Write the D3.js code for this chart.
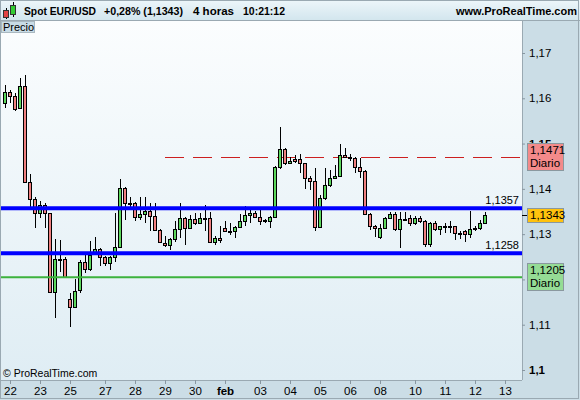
<!DOCTYPE html>
<html>
<head>
<meta charset="utf-8">
<script src="https://cdn.jsdelivr.net/npm/d3@7"></script>
<style>
  body { margin: 0; background: #fff; }
  svg { display: block; font-family: "Liberation Sans", Arial, sans-serif; }
</style>
</head>
<body>
<svg id="chart"></svg>
<script>
// Spot EUR/USD, 4 hour candles
const opens = [
  1.1589,1.1613,1.1605,1.1578,1.1627,1.1416,1.1377,1.1346,1.1364,1.1346,
  1.1172,1.1245,1.1245,1.1156,1.1140,1.1177,1.1238,1.1223,1.1259,1.1267,
  1.1249,1.1236,1.1249,1.1272,1.1401,1.1368,1.1368,1.1338,1.1345,1.1352,
  1.1340,1.1309,1.1281,1.1276,1.1289,1.1311,1.1335,1.1313,1.1333,1.1324,
  1.1335,1.1335,1.1282,1.1291,1.1313,1.1308,1.1308,1.1315,1.1329,1.1342,
  1.1346,1.1337,1.1331,1.1330,1.1337,1.1448,1.1487,1.1457,1.1465,1.1465,
  1.1457,1.1423,1.1417,1.1315,1.1379,1.1409,1.1423,1.1428,1.1475,1.1471,
  1.1468,1.1448,1.1440,1.1345,1.1318,1.1294,1.1313,1.1335,1.1344,1.1311,
  1.1333,1.1335,1.1324,1.1336,1.1328,1.1278,1.1324,1.1311,1.1317,1.1317,
  1.1317,1.1303,1.1306,1.1300,1.1311,1.1313,1.1324
];
const highs = [
  1.1629,1.1618,1.1611,1.1644,1.1651,1.1433,1.1383,1.1374,1.1369,1.1347,
  1.1289,1.1287,1.1250,1.1170,1.1201,1.1243,1.1254,1.1285,1.1293,1.1270,
  1.1252,1.1252,1.1347,1.1422,1.1405,1.1383,1.1370,1.1383,1.1383,1.1368,
  1.1368,1.1311,1.1296,1.1291,1.1328,1.1369,1.1338,1.1342,1.1347,1.1347,
  1.1364,1.1350,1.1296,1.1317,1.1328,1.1324,1.1318,1.1344,1.1362,1.1353,
  1.1352,1.1353,1.1333,1.1340,1.1450,1.1536,1.1490,1.1470,1.1475,1.1478,
  1.1458,1.1428,1.1445,1.1386,1.1445,1.1442,1.1453,1.1500,1.1490,1.1478,
  1.1470,1.1468,1.1442,1.1347,1.1320,1.1323,1.1338,1.1350,1.1350,1.1350,
  1.1350,1.1342,1.1340,1.1340,1.1331,1.1327,1.1328,1.1318,1.1324,1.1328,
  1.1318,1.1307,1.1309,1.1352,1.1317,1.1331,1.1350
];
const lows = [
  1.1578,1.1590,1.1573,1.1576,1.1412,1.1361,1.1314,1.1335,1.1313,1.1170,
  1.1114,1.1217,1.1203,1.1096,1.1136,1.1170,1.1214,1.1219,1.1258,1.1230,
  1.1230,1.1221,1.1239,1.1270,1.1331,1.1353,1.1330,1.1331,1.1324,1.1306,
  1.1306,1.1280,1.1271,1.1264,1.1283,1.1291,1.1276,1.1311,1.1320,1.1323,
  1.1306,1.1280,1.1276,1.1280,1.1305,1.1298,1.1291,1.1313,1.1317,1.1324,
  1.1336,1.1320,1.1324,1.1313,1.1336,1.1443,1.1453,1.1455,1.1458,1.1436,
  1.1399,1.1398,1.1306,1.1313,1.1375,1.1405,1.1422,1.1426,1.1469,1.1462,
  1.1434,1.1423,1.1342,1.1309,1.1294,1.1289,1.1311,1.1333,1.1306,1.1269,
  1.1329,1.1318,1.1320,1.1325,1.1272,1.1272,1.1306,1.1298,1.1302,1.1302,
  1.1287,1.1289,1.1283,1.1291,1.1306,1.1309,1.1323
];
const closes = [
  1.1613,1.1605,1.1576,1.1627,1.1416,1.1377,1.1346,1.1364,1.1346,1.1172,
  1.1245,1.1243,1.1205,1.1140,1.1175,1.1238,1.1223,1.1254,1.1267,1.1249,
  1.1236,1.1249,1.1272,1.1401,1.1368,1.1369,1.1338,1.1345,1.1352,1.1340,
  1.1309,1.1283,1.1276,1.1289,1.1311,1.1335,1.1313,1.1333,1.1324,1.1335,
  1.1334,1.1282,1.1291,1.1286,1.1306,1.1308,1.1315,1.1329,1.1342,1.1346,
  1.1337,1.1330,1.1330,1.1337,1.1448,1.1487,1.1457,1.1462,1.1462,1.1457,
  1.1423,1.1417,1.1315,1.1379,1.1409,1.1423,1.1428,1.1475,1.1470,1.1468,
  1.1448,1.1440,1.1345,1.1318,1.1313,1.1313,1.1335,1.1344,1.1311,1.1333,
  1.1333,1.1324,1.1336,1.1328,1.1278,1.1324,1.1311,1.1317,1.1317,1.1317,
  1.1303,1.1300,1.1300,1.1311,1.1313,1.1324,1.1343
];

// date axis: candle index of each label
const dateTickIndex = [1, 7, 13, 20, 26, 32, 38, 44, 51, 57, 63, 69, 75, 82, 88, 94, 100];
const dateTickLabels = ["22","23","25","27","28","29","30","feb","03","04","05","06","08","10","11","12","13"];
const boldDates = ["feb"];

const priceTicks = [1.1, 1.11, 1.12, 1.13, 1.14, 1.15, 1.16, 1.17];
const boldPrices = [1.1, 1.15];
const hiddenPrices = [1.12]; // covered by the daily low tag

// horizontal levels
const blueLevels = [1.1357, 1.1258];
const dailyHigh = 1.1471;
const dailyLow = 1.1205;
const lastPrice = 1.1343;
const dashStartIndex = 32;

const fmt = v => String(+v.toFixed(4)).replace(".", ",");

class CandleChart {
  constructor(_config) {
    this.config = {
      parentElement: _config.parentElement,
      width: 580,
      height: 400,
      plot: {left: 1, top: 21, right: 522, bottom: 380}
    };
    this.data = opens.map((o, i) => ({i: i, o: o, h: highs[i], l: lows[i], c: closes[i]}));
    this.initVis();
  }

  initVis() {
    let vis = this;
    const p = vis.config.plot;

    vis.svg = d3.select(vis.config.parentElement)
      .attr('width', vis.config.width)
      .attr('height', vis.config.height);

    const defs = vis.svg.append('defs');
    const hg = defs.append('linearGradient').attr('id', 'headGrad').attr('x1', 0).attr('y1', 0).attr('x2', 0).attr('y2', 1);
    hg.append('stop').attr('offset', '0%').attr('stop-color', '#edf6fa');
    hg.append('stop').attr('offset', '100%').attr('stop-color', '#d3e6ee');
    const pg = defs.append('linearGradient').attr('id', 'plotGrad').attr('x1', 0).attr('y1', 0).attr('x2', 0).attr('y2', 1);
    pg.append('stop').attr('offset', '0%').attr('stop-color', '#fbfdfe');
    pg.append('stop').attr('offset', '100%').attr('stop-color', '#dfedf4');
    defs.append('clipPath').attr('id', 'plotClip')
      .append('rect').attr('x', p.left).attr('y', p.top).attr('width', p.right - p.left).attr('height', p.bottom - p.top);

    // panels
    vis.svg.append('rect').attr('width', 580).attr('height', 400).attr('fill', '#cbdde6');
    vis.svg.append('rect')
      .attr('x', p.left).attr('y', p.top)
      .attr('width', p.right - p.left).attr('height', p.bottom - p.top)
      .attr('fill', 'url(#plotGrad)');
    vis.svg.append('rect').attr('width', 580).attr('height', 20).attr('fill', 'url(#headGrad)');

    vis.xScale = d3.scaleLinear().domain([0, 100]).range([5, 505]);
    vis.yScale = d3.scaleLinear().domain([1.1, 1.17]).range([370, 53]);

    vis.chart = vis.svg.append('g').attr('clip-path', 'url(#plotClip)');

    vis.xAxisG = vis.svg.append('g').attr('class', 'axis x-axis').attr('transform', `translate(0,${p.bottom})`);
    vis.yAxisG = vis.svg.append('g').attr('class', 'axis y-axis').attr('transform', `translate(${p.right},0)`);
    vis.overlay = vis.svg.append('g');
  }

  updateVis() {
    let vis = this;
    const p = vis.config.plot;
    const x = vis.xScale, y = vis.yScale;
    const snap = v => Math.round(v) + 0.5;

    // dashed daily high
    vis.chart.append('line')
      .attr('x1', x(dashStartIndex)).attr('x2', p.right)
      .attr('y1', snap(y(dailyHigh))).attr('y2', snap(y(dailyHigh)))
      .attr('stroke', '#cc1f1f').attr('stroke-width', 1)
      .attr('stroke-dasharray', '19,9');

    // candles
    const candles = vis.chart.append('g').attr('shape-rendering', 'crispEdges')
      .selectAll('g').data(vis.data).join('g');

    candles.append('line')
      .attr('x1', d => x(d.i) + 0.5).attr('x2', d => x(d.i) + 0.5)
      .attr('y1', d => Math.round(y(d.h))).attr('y2', d => Math.round(y(d.l)))
      .attr('stroke', '#000');

    candles.append('rect')
      .attr('x', d => x(d.i) - 1.5)
      .attr('y', d => snap(y(Math.max(d.o, d.c))))
      .attr('width', 3)
      .attr('height', d => Math.max(1, Math.round(y(Math.min(d.o, d.c))) - Math.round(y(Math.max(d.o, d.c)))))
      .attr('fill', d => d.c >= d.o ? '#5cd85c' : '#f08080')
      .attr('stroke', '#000');

    // support / resistance lines
    vis.chart.selectAll('.blueLevel').data(blueLevels).join('line')
      .attr('class', 'blueLevel')
      .attr('x1', p.left).attr('x2', p.right)
      .attr('y1', d => y(d)).attr('y2', d => y(d))
      .attr('stroke', '#0000ff').attr('stroke-width', 4);

    vis.chart.append('line')
      .attr('x1', p.left).attr('x2', p.right)
      .attr('y1', y(dailyLow)).attr('y2', y(dailyLow))
      .attr('stroke', '#3db23d').attr('stroke-width', 2);

    vis.chart.selectAll('.levelLabel').data(blueLevels).join('text')
      .attr('class', 'levelLabel')
      .attr('x', p.right - 3).attr('y', d => y(d) - 4)
      .attr('text-anchor', 'end')
      .style('font-size', '11px')
      .text(d => fmt(d));

    // axes
    vis.xAxis = d3.axisBottom(x)
      .tickValues(dateTickIndex)
      .tickFormat((d, i) => dateTickLabels[i])
      .tickSize(4).tickPadding(3);
    vis.xAxisG.call(vis.xAxis);
    vis.xAxisG.select('.domain').attr('stroke', '#9aa9b2').attr('d', `M0,0.5H${p.right}`);
    vis.xAxisG.selectAll('.tick line').attr('stroke', '#8896a0');
    vis.xAxisG.selectAll('.tick text')
      .style('font-size', '11.5px').style('font-family', '"Liberation Sans", Arial, sans-serif')
      .attr('fill', '#000')
      .attr('font-weight', d => boldDates.includes(dateTickLabels[dateTickIndex.indexOf(d)]) ? 'bold' : 'normal');

    vis.yAxis = d3.axisRight(y)
      .tickValues(priceTicks)
      .tickFormat(d => hiddenPrices.includes(d) ? '' : fmt(d))
      .tickSize(3).tickPadding(4);
    vis.yAxisG.call(vis.yAxis);
    vis.yAxisG.select('.domain').attr('stroke', '#9aa9b2').attr('d', `M0.5,${p.top}V${p.bottom}`);
    vis.yAxisG.selectAll('.tick line').attr('stroke', '#8896a0');
    vis.yAxisG.selectAll('.tick text')
      .style('font-size', '11.5px').style('font-family', '"Liberation Sans", Arial, sans-serif')
      .attr('fill', '#000')
      .attr('font-weight', d => boldPrices.includes(d) ? 'bold' : 'normal');

    // price tags on the right axis
    const tags = [
      {v: dailyHigh, fill: '#f38a8a', lines: [fmt(dailyHigh), 'Diario']},
      {v: lastPrice, fill: '#ffc20e', lines: [fmt(lastPrice)]},
      {v: dailyLow, fill: '#95dc95', lines: [fmt(dailyLow), 'Diario']}
    ];
    const tagG = vis.overlay.selectAll('.tag').data(tags).join('g')
      .attr('class', 'tag')
      .attr('transform', d => `translate(527,${Math.round(y(d.v) - d.lines.length * 7)})`);
    tagG.append('rect')
      .attr('x', 0.5).attr('y', 0.5)
      .attr('width', 36).attr('height', d => d.lines.length * 13 + 1)
      .attr('fill', d => d.fill).attr('stroke', '#8a989f');
    tagG.selectAll('text').data(d => d.lines).join('text')
      .attr('x', 3).attr('y', (d, i) => 11 + i * 13)
      .style('font-size', '11.5px')
      .text(d => d);
    vis.overlay.append('line')
      .attr('x1', p.right).attr('x2', 527)
      .attr('y1', snap(y(lastPrice))).attr('y2', snap(y(lastPrice)))
      .attr('stroke', '#000');

    // header
    const head = vis.overlay.append('g');
    head.append('line').attr('x1', 0).attr('x2', 580).attr('y1', 20.5).attr('y2', 20.5).attr('stroke', '#9aa9b2');
    const icon = head.append('g').attr('shape-rendering', 'crispEdges');
    icon.append('line').attr('x1', 6.5).attr('x2', 6.5).attr('y1', 8).attr('y2', 19).attr('stroke', '#000');
    icon.append('rect').attr('x', 3.5).attr('y', 10.5).attr('width', 5).attr('height', 7).attr('fill', '#e24444').attr('stroke', '#333');
    icon.append('line').attr('x1', 13.5).attr('x2', 13.5).attr('y1', 2).attr('y2', 17).attr('stroke', '#000');
    icon.append('rect').attr('x', 10.5).attr('y', 5.5).attr('width', 5).attr('height', 9).attr('fill', '#33cc33').attr('stroke', '#333');

    const headItems = [
      {x: 24, t: 'Spot EUR/USD', w: 72},
      {x: 104, t: '+0,28% (' + fmt(lastPrice) + ')', w: 79},
      {x: 193, t: '4 horas', w: 41},
      {x: 243, t: '10:21:12', w: 42}
    ];
    head.selectAll('.headText').data(headItems).join('text')
      .attr('class', 'headText')
      .attr('x', d => d.x).attr('y', 15)
      .attr('textLength', d => d.w).attr('lengthAdjust', 'spacingAndGlyphs')
      .attr('font-weight', 'bold')
      .style('font-size', '11px')
      .text(d => d.t);
    head.append('text')
      .attr('x', 577).attr('y', 15)
      .attr('text-anchor', 'end')
      .attr('font-weight', 'bold')
      .style('font-size', '11px')
      .text('www.ProRealTime.com');

    // "Precio" tab and copyright
    vis.overlay.append('rect')
      .attr('x', 1.5).attr('y', 21.5).attr('width', 33).attr('height', 11)
      .attr('fill', '#c9dce6').attr('stroke', '#a9b8c0');
    vis.overlay.append('text')
      .attr('x', 3).attr('y', 31)
      .style('font-size', '11px')
      .text('Precio');
    vis.overlay.append('text')
      .attr('x', 3).attr('y', 377)
      .style('font-size', '10.5px')
      .text('© ProRealTime.com');

    // outer frame
    vis.overlay.append('rect')
      .attr('x', 0.5).attr('y', 0.5).attr('width', 578).attr('height', 398)
      .attr('fill', 'none').attr('stroke', '#9aa9b2');
  }
}

let chart = new CandleChart({parentElement: '#chart'});
chart.updateVis();
</script>
</body>
</html>
